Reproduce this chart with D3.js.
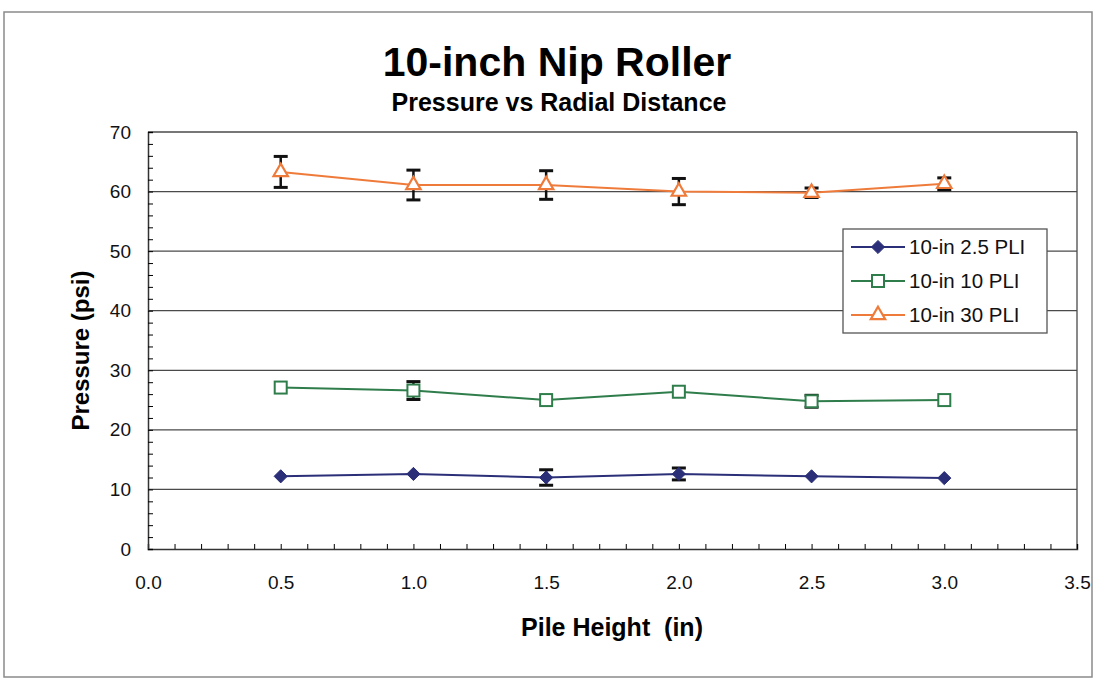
<!DOCTYPE html>
<html>
<head>
<meta charset="utf-8">
<script src="https://cdn.jsdelivr.net/npm/d3@7/dist/d3.min.js"></script>
<style>
  body { margin: 0; background: #fff; }
  text { font-family: "Liberation Sans", Arial, sans-serif; }
</style>
</head>
<body>
<script>
var width = 1098,
    height = 691;

// data
var pileHeight = [0.5, 1.0, 1.5, 2.0, 2.5, 3.0];
var pli25 = [12.2, 12.6, 12.0, 12.6, 12.2, 11.9];
var pli25Err = [0, 0, 1.3, 1.0, 0, 0];
var pli10 = [27.1, 26.6, 25.0, 26.4, 24.8, 25.0];
var pli10Err = [0, 1.5, 0, 0, 1.0, 0];
var pli30 = [63.3, 61.1, 61.1, 60.0, 59.8, 61.3];
var pli30Err = [2.6, 2.5, 2.4, 2.2, 0.8, 1.0];
var seriesNames = ["10-in 2.5 PLI", "10-in 10 PLI", "10-in 30 PLI"];
var xTicks = [0, 0.5, 1.0, 1.5, 2.0, 2.5, 3.0, 3.5];
var yTicks = [0, 10, 20, 30, 40, 50, 60, 70];

var series = [
  { name: seriesNames[0], values: pli25, err: pli25Err, color: "#2b2f78", marker: "diamond" },
  { name: seriesNames[1], values: pli10, err: pli10Err, color: "#2f7d4b", marker: "square" },
  { name: seriesNames[2], values: pli30, err: pli30Err, color: "#ef7b3b", marker: "triangle" }
];

var x = d3.scaleLinear().domain([0, 3.5]).range([148, 1077]);
var y = d3.scaleLinear().domain([0, 70]).range([549, 132]);

var svg = d3.select("body").append("svg")
    .attr("width", width)
    .attr("height", height);

// outer frame
svg.append("rect")
    .attr("x", 4).attr("y", 12)
    .attr("width", 1088).attr("height", 665)
    .attr("fill", "#fff")
    .attr("stroke", "#8a8a8a")
    .attr("stroke-width", 1.5);

// titles
svg.append("text")
    .attr("x", 557).attr("y", 76)
    .attr("text-anchor", "middle")
    .style("font-size", "41px").style("font-weight", "bold")
    .text("10-inch Nip Roller");
svg.append("text")
    .attr("x", 559).attr("y", 111)
    .attr("text-anchor", "middle")
    .style("font-size", "25px").style("font-weight", "bold")
    .text("Pressure vs Radial Distance");

// gridlines
svg.append("g").selectAll("line")
  .data(yTicks.filter(function(d) { return d > 0; }))
  .enter().append("line")
    .attr("x1", x(0)).attr("x2", x(3.5))
    .attr("y1", function(d) { return y(d); })
    .attr("y2", function(d) { return y(d); })
    .attr("stroke", "#4a4a4a")
    .attr("stroke-width", 1.3);

// right border of plot area
svg.append("line")
    .attr("x1", x(3.5)).attr("x2", x(3.5))
    .attr("y1", y(70)).attr("y2", y(0))
    .attr("stroke", "#4a4a4a").attr("stroke-width", 1.3);

// axes (ticks point inward)
var xAxis = d3.axisTop(x).tickValues(d3.range(0, 36).map(function(i) { return i / 10; }))
    .tickSize(5).tickFormat("");
svg.append("g")
    .attr("transform", "translate(0," + y(0) + ")")
    .call(xAxis)
    .call(function(g) { g.select(".domain").attr("stroke", "#333").attr("stroke-width", 1.5); });

svg.append("g")
    .attr("transform", "translate(0," + (y(0) + 20) + ")")
    .call(d3.axisBottom(x).tickValues(xTicks).tickSize(0).tickFormat(d3.format(".1f")))
    .call(function(g) {
      g.select(".domain").remove();
      g.selectAll("text").style("font-size", "19px").attr("fill", "#111").attr("dy", "0.9em");
    });

var yAxis = d3.axisRight(y).tickValues(d3.range(0, 71, 2)).tickSize(5).tickFormat("");
svg.append("g")
    .attr("transform", "translate(" + x(0) + ",0)")
    .call(yAxis)
    .call(function(g) { g.select(".domain").attr("stroke", "#333").attr("stroke-width", 1.5); });

svg.append("g")
    .attr("transform", "translate(" + (x(0) - 14) + ",0)")
    .call(d3.axisLeft(y).tickValues(yTicks).tickSize(0))
    .call(function(g) {
      g.select(".domain").remove();
      g.selectAll("text").style("font-size", "19px").attr("fill", "#111");
    });

// axis titles
svg.append("text")
    .attr("transform", "translate(89," + ((y(0) + y(70)) / 2 + 10) + ") rotate(-90)")
    .attr("text-anchor", "middle")
    .style("font-size", "24px").style("font-weight", "bold")
    .text("Pressure (psi)");
svg.append("text")
    .attr("x", 612).attr("y", 636)
    .attr("text-anchor", "middle")
    .style("font-size", "25px").style("font-weight", "bold")
    .style("white-space", "pre")
    .text("Pile Height  (in)");

var line = d3.line()
    .x(function(d, i) { return x(pileHeight[i]); })
    .y(function(d) { return y(d); });

function drawMarker(sel, s) {
  if (s.marker === "diamond") {
    sel.append("path")
      .attr("d", d3.symbol().type(d3.symbolDiamond2).size(110))
      .attr("fill", s.color).attr("stroke", s.color).attr("stroke-width", 1);
  } else if (s.marker === "square") {
    sel.append("rect")
      .attr("x", -6).attr("y", -6).attr("width", 12).attr("height", 12)
      .attr("fill", "#fff").attr("stroke", s.color).attr("stroke-width", 2);
  } else {
    sel.append("path")
      .attr("d", d3.symbol().type(d3.symbolTriangle).size(90))
      .attr("fill", "#fff").attr("stroke", s.color).attr("stroke-width", 2.2);
  }
}

series.forEach(function(s) {
  var g = svg.append("g");

  g.append("path")
    .datum(s.values)
    .attr("d", line)
    .attr("fill", "none")
    .attr("stroke", s.color)
    .attr("stroke-width", 2);

  // error bars
  var eb = g.selectAll(".err")
    .data(s.values.map(function(v, i) { return { x: pileHeight[i], v: v, e: s.err[i] }; })
      .filter(function(d) { return d.e > 0; }))
    .enter().append("g");
  eb.append("line")
    .attr("x1", function(d) { return x(d.x); })
    .attr("x2", function(d) { return x(d.x); })
    .attr("y1", function(d) { return y(d.v + d.e); })
    .attr("y2", function(d) { return y(d.v - d.e); })
    .attr("stroke", "#111").attr("stroke-width", 2.5);
  [1, -1].forEach(function(sign) {
    eb.append("line")
      .attr("x1", function(d) { return x(d.x) - 7; })
      .attr("x2", function(d) { return x(d.x) + 7; })
      .attr("y1", function(d) { return y(d.v + sign * d.e); })
      .attr("y2", function(d) { return y(d.v + sign * d.e); })
      .attr("stroke", "#111").attr("stroke-width", 3);
  });

  g.selectAll(".mk")
    .data(s.values)
    .enter().append("g")
    .attr("transform", function(d, i) { return "translate(" + x(pileHeight[i]) + "," + y(d) + ")"; })
    .each(function() { drawMarker(d3.select(this), s); });
});

// legend
var legend = svg.append("g").attr("transform", "translate(843,229)");
legend.append("rect")
    .attr("width", 204).attr("height", 104)
    .attr("fill", "#fff").attr("stroke", "#555").attr("stroke-width", 1.3);

var items = legend.selectAll(".item")
  .data(series)
  .enter().append("g")
  .attr("transform", function(d, i) { return "translate(0," + (18 + i * 34) + ")"; });
items.append("line")
    .attr("x1", 8).attr("x2", 62)
    .attr("stroke", function(d) { return d.color; })
    .attr("stroke-width", 2);
items.append("g")
    .attr("transform", "translate(35,0)")
    .each(function(d) { drawMarker(d3.select(this), d); });
items.append("text")
    .attr("x", 66).attr("dy", "0.36em")
    .style("font-size", "20.5px")
    .attr("fill", "#111")
    .text(function(d) { return d.name; });
</script>
</body>
</html>
